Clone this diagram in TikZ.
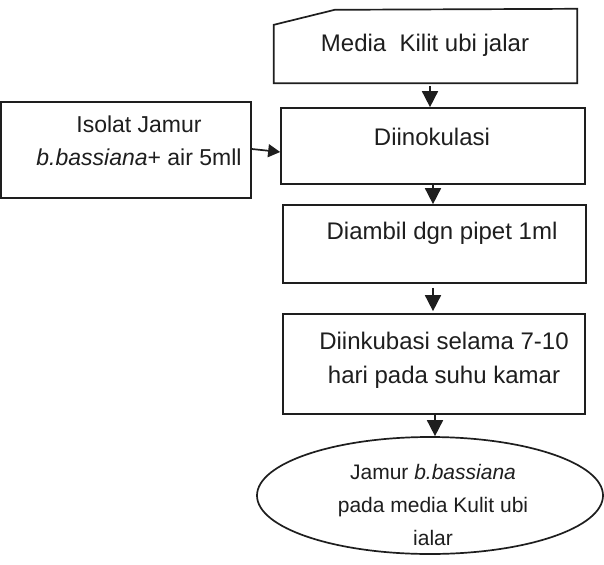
\documentclass[tikz,border=0pt]{standalone}
\usepackage{fontspec}
\setmainfont{Liberation Sans}
\usetikzlibrary{arrows.meta,shapes.geometric,calc}
\definecolor{ink}{HTML}{1E1E1E}
\begin{document}
\begin{tikzpicture}[x=1pt,y=-1pt,
  frame/.style={draw=ink,line width=1.7pt,inner sep=0pt},
  hidden/.style={inner sep=0pt},
  lbl/.style={text=ink,font=\fontsize{24}{34}\selectfont,align=center,inner sep=0pt},
  arr/.style={draw=ink,line width=1.7pt,-{Triangle[length=16pt,width=16pt]}}]
\useasboundingbox[fill=white] (0,0) rectangle (604,564);
% boxes
\node[hidden,minimum width=303pt,minimum height=74pt] (media) at (425.5,46) {};
\draw[ink,line width=1.7pt,line join=miter]
  (media.south west) -- (media.south east) -- (media.north east)
  -- ($(media.north west)+(61pt,-1pt)$) -- ($(media.north west)+(0pt,-16pt)$) -- cycle;
\node[frame,minimum width=304pt,minimum height=76pt] (dino) at (433,146) {};
\node[frame,minimum width=303pt,minimum height=78pt] (diambil) at (434.5,244) {};
\node[frame,minimum width=302pt,minimum height=100pt] (inkub) at (434,364) {};
\node[frame,ellipse,minimum width=346pt,minimum height=117pt] (jamur) at (430,495.5) {};
\node[frame,minimum width=250pt,minimum height=96pt] (isolat) at (126,150) {};
% labels
\node[lbl] (tmedia) at (425,45) {Media\ \ Kilit ubi jalar};
\node[lbl] (tdino) at (432,137) {Diinokulasi};
\node[lbl] (tdiambil) at (442,233) {Diambil dgn pipet 1ml};
\node[lbl] (tinkub) at (444,360) {Diinkubasi selama 7-10\\hari pada suhu kamar};
\node[lbl,font=\fontsize{23}{33}\selectfont] (tisolat) at (139,141) {Isolat Jamur\\\textit{b.bassiana}+ air 5mll};
\node[lbl,font=\fontsize{21}{33}\selectfont] (tjamur) at (433,505) {Jamur \textit{b.bassiana}\\pada media Kulit ubi\\ialar};
% connectors
\draw[arr] ([xshift=4.5pt,yshift=-3pt]media.south) -- ([xshift=4.5pt]media.south |- dino.north);
\draw[arr] (dino.south) -- (dino.south |- diambil.north);
\draw[arr] ([xshift=-1.5pt,yshift=-4pt]diambil.south) -- ([xshift=-1.5pt,yshift=2pt]diambil.south |- inkub.north);
\draw[arr] ([xshift=1pt]inkub.south) -- ([xshift=1pt]inkub.south |- jamur.north);
\draw[arr,-{Triangle[length=12pt,width=13pt]}] ([yshift=1pt]isolat.east) -- ([yshift=-6pt]dino.west);
\end{tikzpicture}
\end{document}
